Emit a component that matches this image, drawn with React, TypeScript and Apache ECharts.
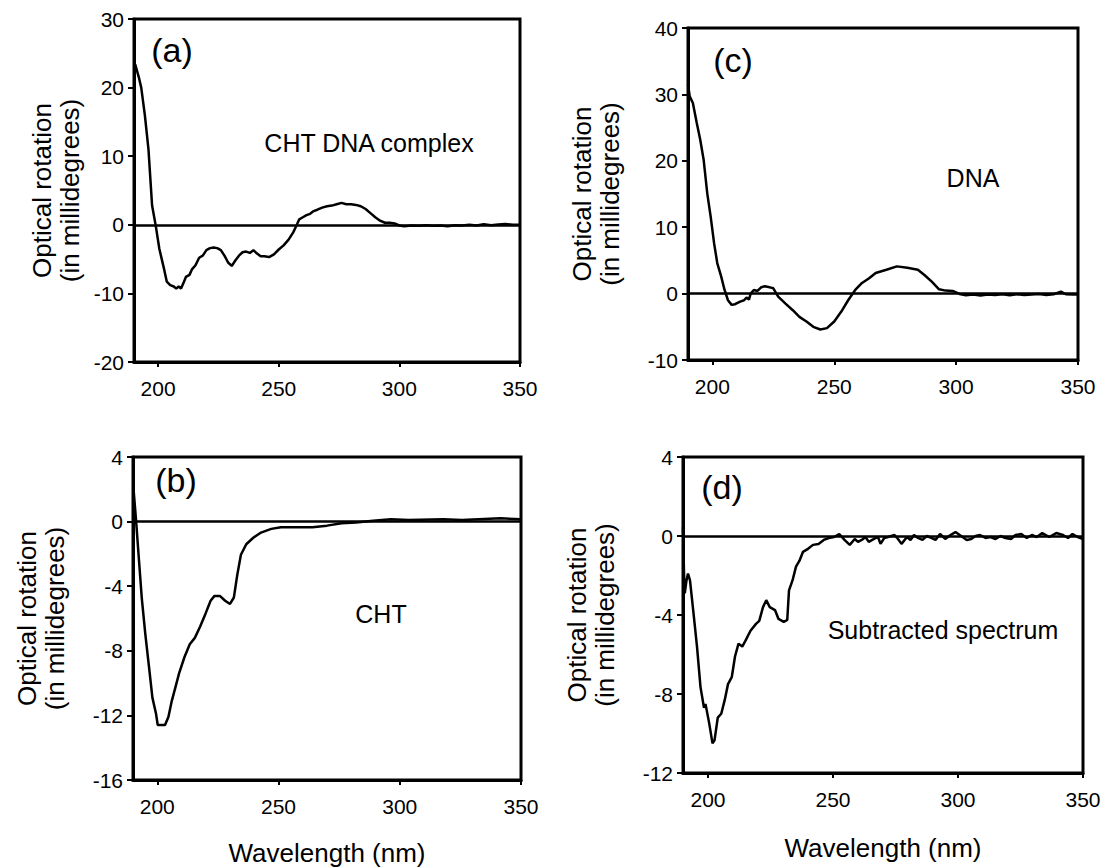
import React, { useEffect, useRef } from "react";
import * as echarts from "echarts";

const FONT = "'Liberation Sans', Arial, Helvetica, sans-serif";

// Panel (a): CHT DNA complex
const wlA = [190.5, 192, 193, 194.5, 196, 197.5, 199, 200.5, 201.5, 202.5, 203.6, 205, 206.5, 207.5, 208.5, 209.5, 210.5, 211.5, 213, 214, 215.5, 217, 218.5, 220, 221.5, 223, 224.5, 226, 227.5, 229, 230.5, 232, 233.5, 235, 236.5, 238, 239.5, 241, 242.5, 244, 246, 248, 250, 252, 254, 256, 257.5, 258.5, 260, 261.5, 263, 264.5, 266, 268, 270, 272, 274, 276, 278, 280, 282, 284, 286, 288, 290, 292, 294, 296, 298, 300, 302, 305, 308, 311, 314, 317, 320, 323, 326, 329, 332, 335, 338, 341, 344, 347, 350];
const rotA = [23.4, 21.5, 20, 16, 11, 2.8, -0.1, -3.5, -5, -6.5, -8.3, -8.8, -9.0, -9.3, -9.0, -9.3, -8.5, -7.6, -7.3, -6.5, -5.9, -4.8, -4.5, -3.7, -3.4, -3.3, -3.4, -3.7, -4.5, -5.5, -6.0, -5.2, -4.5, -4.0, -3.9, -4.1, -3.7, -4.2, -4.6, -4.6, -4.7, -4.3, -3.6, -3.0, -2.2, -1.1, 0, 0.8, 1.1, 1.4, 1.6, 2.0, 2.2, 2.5, 2.7, 2.8, 3.0, 3.2, 3.0, 3.0, 2.9, 2.7, 2.3, 1.7, 1.1, 0.6, 0.3, 0.3, 0.2, -0.1, -0.2, -0.1, -0.15, -0.05, -0.15, -0.1, -0.2, -0.05, -0.1, 0, -0.1, 0.1, -0.05, 0.05, 0.1, 0, 0];

// Panel (b): CHT
const wlB = [190.3, 191.2, 192.2, 193.6, 195.1, 196.6, 198, 199.5, 200.2, 201.7, 203.2, 204.6, 206, 207.6, 209, 211.2, 213.4, 215.5, 217.7, 219.9, 222, 223.6, 225.8, 228, 230, 231.6, 233, 234.5, 236.7, 239.6, 242.5, 247, 251, 260, 264, 270, 276, 282, 289, 296.4, 303.6, 318, 325.6, 341.6, 350];
const rotB = [1.85, 0.2, -1.85, -4.7, -7, -9, -10.9, -11.9, -12.6, -12.6, -12.6, -12.1, -11.1, -10.2, -9.4, -8.4, -7.6, -7.2, -6.5, -5.7, -4.9, -4.6, -4.6, -4.9, -5.1, -4.7, -3.3, -2.05, -1.4, -1, -0.7, -0.45, -0.35, -0.35, -0.35, -0.25, -0.1, -0.05, 0.05, 0.15, 0.1, 0.15, 0.1, 0.2, 0.15];

// Panel (c): DNA
const wlC = [190, 190.7, 192, 193.6, 195, 196.4, 197.9, 199.3, 200.7, 202, 203.6, 205, 206.4, 207.9, 209.3, 211.4, 213, 214, 215, 215.7, 217, 218.5, 220, 221.5, 223, 224, 225, 227, 230, 233, 235.7, 238.6, 241.4, 244.3, 247, 250, 252.9, 255.7, 258.6, 261.4, 264.3, 267, 271.4, 275.7, 280, 284.3, 287, 290, 293, 295.7, 298.6, 301.4, 304, 307, 310, 313, 316, 319, 322, 325, 328, 331, 334, 337, 340, 343, 345, 348, 350];
const rotC = [31.5, 29.7, 28.7, 25.7, 23.2, 20.2, 15.1, 11.6, 7.6, 4.6, 2.6, 0.55, -1, -1.7, -1.6, -1.2, -1.0, -0.6, -0.9, 0, 0.55, 0.4, 0.95, 1.1, 1.0, 0.9, 0.8, -0.45, -1.5, -2.5, -3.5, -4.2, -5, -5.4, -5.2, -4.2, -2.7, -1, 0.55, 1.6, 2.3, 3.1, 3.6, 4.1, 3.9, 3.6, 2.8, 1.8, 0.65, 0.45, 0.4, -0.05, -0.25, -0.15, -0.3, -0.15, -0.2, -0.1, -0.25, -0.1, -0.2, -0.15, -0.05, -0.2, -0.1, 0.3, -0.1, -0.15, -0.15];

// Panel (d): Subtracted spectrum
const wlD = [190, 190.4, 190.7, 191.4, 192, 192.8, 194.2, 195.6, 197, 198.4, 199, 200.5, 201.8, 202.6, 203.9, 205.3, 206.7, 208, 209.5, 210.8, 212.2, 213.7, 215, 217, 219.2, 220.5, 222, 223.3, 224.7, 226.8, 228.2, 230.3, 231.7, 232.4, 233.8, 235.2, 236.6, 238, 240, 242, 244.2, 246.3, 248.3, 250.4, 252.5, 254.6, 256.7, 258.7, 260, 261.5, 263, 264.3, 266.4, 268, 269, 270.5, 272, 274.6, 276, 277.4, 279.6, 281, 282.4, 284, 285.8, 287.5, 289.3, 291, 292.8, 294.9, 297, 299, 301.8, 303.5, 305.3, 307, 308.8, 311, 313, 315, 317, 319, 321.2, 323, 325.3, 327.5, 329.5, 331.5, 333.7, 336.5, 339.3, 342, 344, 345.8, 347.9, 350];
const rotD = [0.45, -1.9, -2.9, -2.25, -1.9, -2.25, -3.9, -5.6, -7.65, -8.7, -8.5, -9.5, -10.5, -10.35, -9.2, -9, -8.3, -7.5, -7.15, -6.1, -5.45, -5.6, -5.3, -4.8, -4.45, -4.3, -3.6, -3.25, -3.6, -3.75, -4.2, -4.35, -4.25, -2.75, -2.25, -1.55, -1.25, -0.8, -0.65, -0.45, -0.4, -0.2, -0.1, -0.05, 0.1, -0.2, -0.45, -0.15, -0.3, -0.2, -0.05, -0.3, -0.15, -0.05, -0.4, -0.1, -0.05, 0.05, -0.15, -0.4, -0.05, -0.2, 0.05, -0.1, -0.2, 0, -0.1, -0.2, 0.1, -0.15, 0.05, 0.2, -0.05, -0.2, -0.15, 0, 0.05, -0.1, -0.05, -0.15, 0, -0.1, -0.15, 0.05, 0.1, -0.1, 0.05, -0.05, 0.15, -0.05, 0.15, 0.05, -0.1, 0.1, -0.05, -0.15];

const xTickValues = [200, 250, 300, 350];
const yTitle = "Optical rotation\n(in millidegrees)";
const xTitle = "Wavelength (nm)";
const panelLabels = ["(a)", "(b)", "(c)", "(d)"];
const panelNotes = ["CHT DNA complex", "CHT", "DNA", "Subtracted spectrum"];

const pairs = (x: number[], y: number[]) => x.map((v, i) => [v, y[i]]);

export default function App() {
  const ref = useRef<HTMLDivElement>(null);
  useEffect(() => {
    if (!ref.current) return;
    const chart = echarts.init(ref.current, undefined, { renderer: "svg" });

    const grids = [
      { left: 134, top: 19, width: 386, height: 343 }, // a
      { left: 133, top: 457, width: 388, height: 323 }, // b
      { left: 688, top: 28, width: 390, height: 332 }, // c
      { left: 683, top: 457, width: 400, height: 316 }, // d
    ];
    const yRanges = [
      { min: -20, max: 30, interval: 10, gap: 50 },
      { min: -16, max: 4, interval: 4, gap: 64 },
      { min: -10, max: 40, interval: 10, gap: 64 },
      { min: -12, max: 4, interval: 4, gap: 64 },
    ];
    const datasets = [pairs(wlA, rotA), pairs(wlB, rotB), pairs(wlC, rotC), pairs(wlD, rotD)];
    const showXName = [false, true, false, true];

    const axisLine = { show: true, onZero: false, lineStyle: { color: "#000", width: 3 } };
    const textEl = (x: number, y: number, text: string, size: number) => ({
      type: "text",
      x,
      y,
      style: { text, font: `${size}px ${FONT}`, fill: "#000", align: "center", verticalAlign: "middle" },
    });

    const option: any = {
      animation: false,
      grid: grids.map((g) => ({
        ...g,
        show: true,
        borderColor: "#000",
        borderWidth: 3,
        backgroundColor: "transparent",
      })),
      xAxis: grids.map((_, i) => ({
        type: "value",
        gridIndex: i,
        min: 190,
        max: 350,
        axisLine,
        axisTick: {
          show: true,
          customValues: xTickValues,
          length: 5,
          lineStyle: { color: "#000", width: 2 },
        },
        axisLabel: {
          customValues: xTickValues,
          color: "#000",
          fontSize: 21,
          fontFamily: FONT,
          margin: 16,
        },
        splitLine: { show: false },
        name: showXName[i] ? xTitle : "",
        nameLocation: "middle",
        nameGap: i === 1 ? 60 : 62,
        nameTextStyle: { color: "#000", fontSize: 26, fontFamily: FONT },
      })),
      yAxis: grids.map((_, i) => ({
        type: "value",
        gridIndex: i,
        min: yRanges[i].min,
        max: yRanges[i].max,
        interval: yRanges[i].interval,
        axisLine,
        axisTick: { show: true, length: 6, lineStyle: { color: "#000", width: 2 } },
        axisLabel: { color: "#000", fontSize: 21, fontFamily: FONT, margin: 10 },
        splitLine: { show: false },
        name: yTitle,
        nameLocation: "middle",
        nameRotate: 90,
        nameGap: yRanges[i].gap,
        nameTextStyle: { color: "#000", fontSize: 26, lineHeight: 28, fontFamily: FONT },
      })),
      series: datasets.map((d, i) => ({
        type: "line",
        xAxisIndex: i,
        yAxisIndex: i,
        data: d,
        showSymbol: false,
        symbol: "none",
        lineStyle: { color: "#000", width: 2.5 },
        markLine: {
          silent: true,
          symbol: ["none", "none"],
          label: { show: false },
          lineStyle: { color: "#000", width: 2.5, type: "solid" },
          data: [{ yAxis: 0 }],
        },
      })),
      graphic: [
        textEl(172, 50, panelLabels[0], 34),
        textEl(176, 480, panelLabels[1], 34),
        textEl(733, 60, panelLabels[2], 34),
        textEl(722, 487, panelLabels[3], 34),
        textEl(369, 143, panelNotes[0], 25),
        textEl(381, 614, panelNotes[1], 25),
        textEl(973, 178, panelNotes[2], 25),
        textEl(943, 630, panelNotes[3], 25),
      ],
    };
    chart.setOption(option);
    return () => chart.dispose();
  }, []);

  return (
    <div
      ref={ref}
      style={{ position: "absolute", left: 0, top: 0, width: 1104, height: 867, background: "#fff" }}
    />
  );
}
